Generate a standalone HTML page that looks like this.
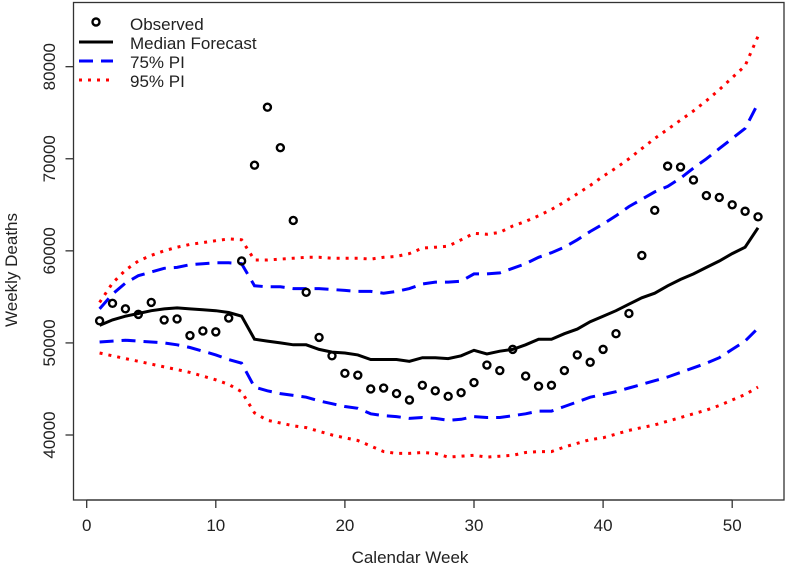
<!DOCTYPE html>
<html><head><meta charset="utf-8"><style>
html,body{margin:0;padding:0;background:#fff;}
svg text{font-family:"Liberation Sans",Arial,sans-serif;fill:#222;}
</style></head><body>
<svg id="chart" width="787" height="572" viewBox="0 0 787 572" xmlns="http://www.w3.org/2000/svg">
<g id="plot"></g>
</svg>
<script>
const weeks=[];for(let i=1;i<=52;i++)weeks.push(i);
const observed=[52400,54300,53700,53100,54400,52500,52600,50800,51300,51200,52700,58900,69300,75600,71200,63300,55500,50600,48600,46700,46500,45000,45100,44500,43800,45400,44800,44200,44600,45700,47600,47000,49300,46400,45300,45400,47000,48700,47900,49300,51000,53200,59500,64400,69200,69100,67700,66000,65800,65000,64300,63700];
const median=[51900,52500,52900,53200,53500,53700,53800,53700,53600,53500,53300,52900,50400,50200,50000,49800,49800,49300,49000,48900,48700,48200,48200,48200,48000,48400,48400,48300,48600,49200,48800,49100,49300,49800,50400,50400,51000,51500,52300,52900,53500,54200,54900,55400,56200,56900,57500,58200,58900,59700,60400,62500];
const pi75Upper=[53700,55300,56500,57300,57700,58100,58200,58500,58600,58700,58700,58600,56200,56100,56100,55900,55900,55900,55800,55700,55600,55600,55400,55600,55900,56400,56600,56600,56700,57500,57500,57600,58100,58600,59300,59800,60400,61200,62100,62900,63800,64800,65600,66400,67000,67900,69000,70000,71100,72200,73300,76000];
const pi75Lower=[50100,50200,50300,50200,50100,50000,49800,49500,49100,48700,48200,47800,45200,44800,44500,44300,44100,43700,43400,43100,42900,42300,42100,42000,41800,41900,41800,41600,41700,42000,41900,41900,42100,42300,42600,42600,43100,43600,44100,44400,44700,45100,45500,45900,46300,46800,47300,47800,48400,49300,50200,51600];
const pi95Upper=[54400,56500,57900,58900,59500,60000,60400,60700,60900,61100,61300,61200,59000,59000,59100,59200,59300,59300,59200,59200,59200,59100,59300,59400,59700,60300,60400,60500,61200,61900,61800,62000,62700,63200,63800,64500,65300,66200,67100,68100,69000,70000,71100,72200,73200,74200,75200,76300,77500,78800,80100,83300];
const pi95Lower=[48900,48600,48300,48000,47700,47400,47100,46800,46400,46000,45500,44700,42400,41600,41300,41000,40800,40400,40000,39700,39400,38800,38200,38000,38000,38100,38000,37600,37700,37800,37600,37700,37800,38100,38200,38200,38700,39100,39500,39700,40100,40500,40800,41100,41500,41900,42300,42700,43200,43800,44400,45200];
const xTicks=[0,10,20,30,40,50];
const yTicks=[40000,50000,60000,70000,80000];

const NS="http://www.w3.org/2000/svg";
const g=document.getElementById('plot');
function xs(v){return 86.7+v*12.91;}
function ys(v){return 435-(v-40000)*0.009208;}
function mk(tag,attrs,parent){const e=document.createElementNS(NS,tag);for(const k in attrs)e.setAttribute(k,attrs[k]);(parent||g).appendChild(e);return e;}

const box=mk('rect',{x:73.5,y:2.5,width:710.5,height:497.5,fill:'none',stroke:'#333','stroke-width':1.3});



mk('line',{x1:xs(0),x2:xs(50),y1:500,y2:500,stroke:'#333','stroke-width':1.3});
xTicks.forEach(t=>{
  const l=mk('line',{x1:xs(t),x2:xs(t),y1:500,y2:508,stroke:'#333','stroke-width':1.3});
  
  
  const tx=mk('text',{x:xs(t),y:531,'text-anchor':'middle','font-size':17});
  tx.textContent=t;
  
  
});
yTicks.forEach(t=>{
  const l=mk('line',{x1:73.5,x2:65.5,y1:ys(t),y2:ys(t),stroke:'#333','stroke-width':1.3});
  
  
  const tx=mk('text',{x:0,y:0,'text-anchor':'middle','font-size':17,transform:`translate(55,${ys(t)}) rotate(-90)`});
  tx.textContent=t;
  
  
});
const xt=mk('text',{x:410,y:563,'text-anchor':'middle','font-size':17});
xt.textContent='Calendar Week';


const yt=mk('text',{x:0,y:0,'text-anchor':'middle','font-size':17,transform:'translate(17,270) rotate(-90)'});
yt.textContent='Weekly Deaths';



function line(arr,stroke,dash,name){
  const d=arr.map((v,i)=>(i?'L':'M')+xs(weeks[i]).toFixed(1)+','+ys(v).toFixed(1)).join(' ');
  const p=mk('path',{d:d,fill:'none',stroke:stroke,'stroke-width':3,'stroke-dasharray':dash});
  
  
}
line(pi95Upper,'#ff0000','3 6','pi95-upper-line');
line(pi95Lower,'#ff0000','3 6','pi95-lower-line');
line(pi75Upper,'#0000ff','14 8','pi75-upper-line');
line(pi75Lower,'#0000ff','14 8','pi75-lower-line');
line(median,'#000','none','median-forecast-line');
observed.forEach((v,i)=>{
  const c=mk('circle',{cx:xs(weeks[i]),cy:ys(v),r:3.5,fill:'none',stroke:'#000','stroke-width':2.4});
  
  
});

const lg=mk('g',{});


const rows=[['Observed',24],['Median Forecast',43],['75% PI',62],['95% PI',81]];
const lc=mk('circle',{cx:96,cy:22,r:3.5,fill:'none',stroke:'#000','stroke-width':2.4},lg);


const l1=mk('line',{x1:79,x2:113,y1:42,y2:42,stroke:'#000','stroke-width':3},lg);


const l2=mk('line',{x1:79,x2:113,y1:61,y2:61,stroke:'#0000ff','stroke-width':3,'stroke-dasharray':'14 8'},lg);


const l3=mk('line',{x1:79,x2:113,y1:80,y2:80,stroke:'#ff0000','stroke-width':3,'stroke-dasharray':'3 6'},lg);


rows.forEach(r=>{
  const t=mk('text',{x:130,y:r[1]+6,'font-size':17},lg);
  t.textContent=r[0];
  
  
});
</script>
</body></html>
